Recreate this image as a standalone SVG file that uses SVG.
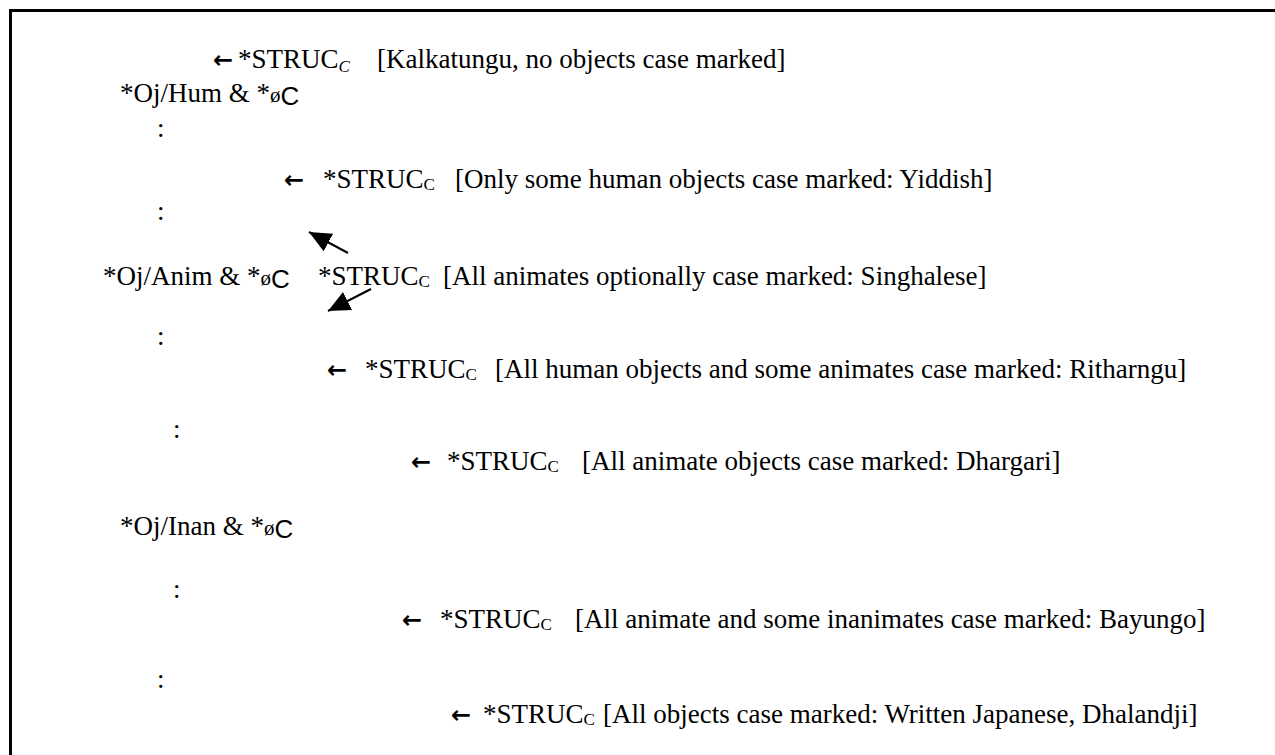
<svg xmlns="http://www.w3.org/2000/svg" width="1275" height="755" viewBox="0 0 1275 755">
<style>
.t{font-family:"Liberation Serif","Times New Roman",serif;font-size:27px;fill:#000}
.s{font-size:17px}
.si{font-size:17px;font-style:italic}
.o{font-size:21px}
.c{font-family:"Liberation Sans",Arial,sans-serif;font-size:26px}
.ar{font-family:"DejaVu Sans","Liberation Sans",sans-serif;font-size:24px;font-weight:bold;fill:#000}
.cn{stroke:#000;stroke-width:2;fill:none}
</style>
<defs>
<marker id="tri" markerUnits="userSpaceOnUse" markerWidth="24" markerHeight="24" viewBox="0 0 24 24" refX="22" refY="12" orient="auto">
<path d="M0,2 L22,12 L0,22 z" fill="#000"/>
</marker>
</defs>
<rect width="1275" height="755" fill="#fff"/>
<path d="M10.5,755 V10.5 H1275" stroke="#000" stroke-width="3" fill="none"/>

<g id="row-kalkatungu">
<text class="ar" x="213" y="68">←</text>
<text class="t" x="238" y="68">*STRUC<tspan class="si" dy="4">C</tspan><tspan dy="-4" x="377">[Kalkatungu, no objects case marked]</tspan></text>
</g>
<g id="node-hum">
<text class="t" x="120" y="102">*Oj/Hum &amp; *<tspan class="o">ø</tspan><tspan class="c" dy="3">C</tspan></text>
</g>
<g id="dots-1"><text class="t" x="157" y="137">:</text></g>
<g id="row-yiddish">
<text class="ar" x="284" y="188">←</text>
<text class="t" x="323" y="188">*STRUC<tspan class="s" dy="2">C</tspan><tspan dy="-2" x="455">[Only some human objects case marked: Yiddish]</tspan></text>
</g>
<g id="dots-2"><text class="t" x="157" y="220">:</text></g>
<g id="node-anim">
<text class="t" x="103" y="285">*Oj/Anim &amp; *<tspan class="o">ø</tspan><tspan class="c" dy="3">C</tspan></text>
</g>
<g id="row-singhalese">
<text class="t" x="318" y="285">*STRUC<tspan class="s" dy="2">C</tspan><tspan dy="-2" x="443">[All animates optionally case marked: Singhalese]</tspan></text>
</g>
<g id="dots-3"><text class="t" x="157" y="345">:</text></g>
<g id="row-ritharngu">
<text class="ar" x="327" y="378">←</text>
<text class="t" x="365" y="378">*STRUC<tspan class="s" dy="2">C</tspan><tspan dy="-2" x="495">[All human objects and some animates case marked: Ritharngu]</tspan></text>
</g>
<g id="dots-4"><text class="t" x="173" y="438">:</text></g>
<g id="row-dhargari">
<text class="ar" x="411" y="470">←</text>
<text class="t" x="447" y="470">*STRUC<tspan class="s" dy="2">C</tspan><tspan dy="-2" x="582">[All animate objects case marked: Dhargari]</tspan></text>
</g>
<g id="node-inan">
<text class="t" x="120" y="535">*Oj/Inan &amp; *<tspan class="o">ø</tspan><tspan class="c" dy="3">C</tspan></text>
</g>
<g id="dots-5"><text class="t" x="173" y="598">:</text></g>
<g id="row-bayungo">
<text class="ar" x="402" y="628">←</text>
<text class="t" x="440" y="628">*STRUC<tspan class="s" dy="2">C</tspan><tspan dy="-2" x="575">[All animate and some inanimates case marked: Bayungo]</tspan></text>
</g>
<g id="dots-6"><text class="t" x="157" y="688">:</text></g>
<g id="row-japanese">
<text class="ar" x="451" y="723">←</text>
<text class="t" x="483" y="723">*STRUC<tspan class="s" dy="2">C</tspan><tspan dy="-2" x="603">[All objects case marked: Written Japanese, Dhalandji]</tspan></text>
</g>

<g id="connectors">
<line class="cn" x1="348" y1="253" x2="309" y2="232" marker-end="url(#tri)"/>
<line class="cn" x1="371" y1="289" x2="328" y2="311" marker-end="url(#tri)"/>
</g>
</svg>
